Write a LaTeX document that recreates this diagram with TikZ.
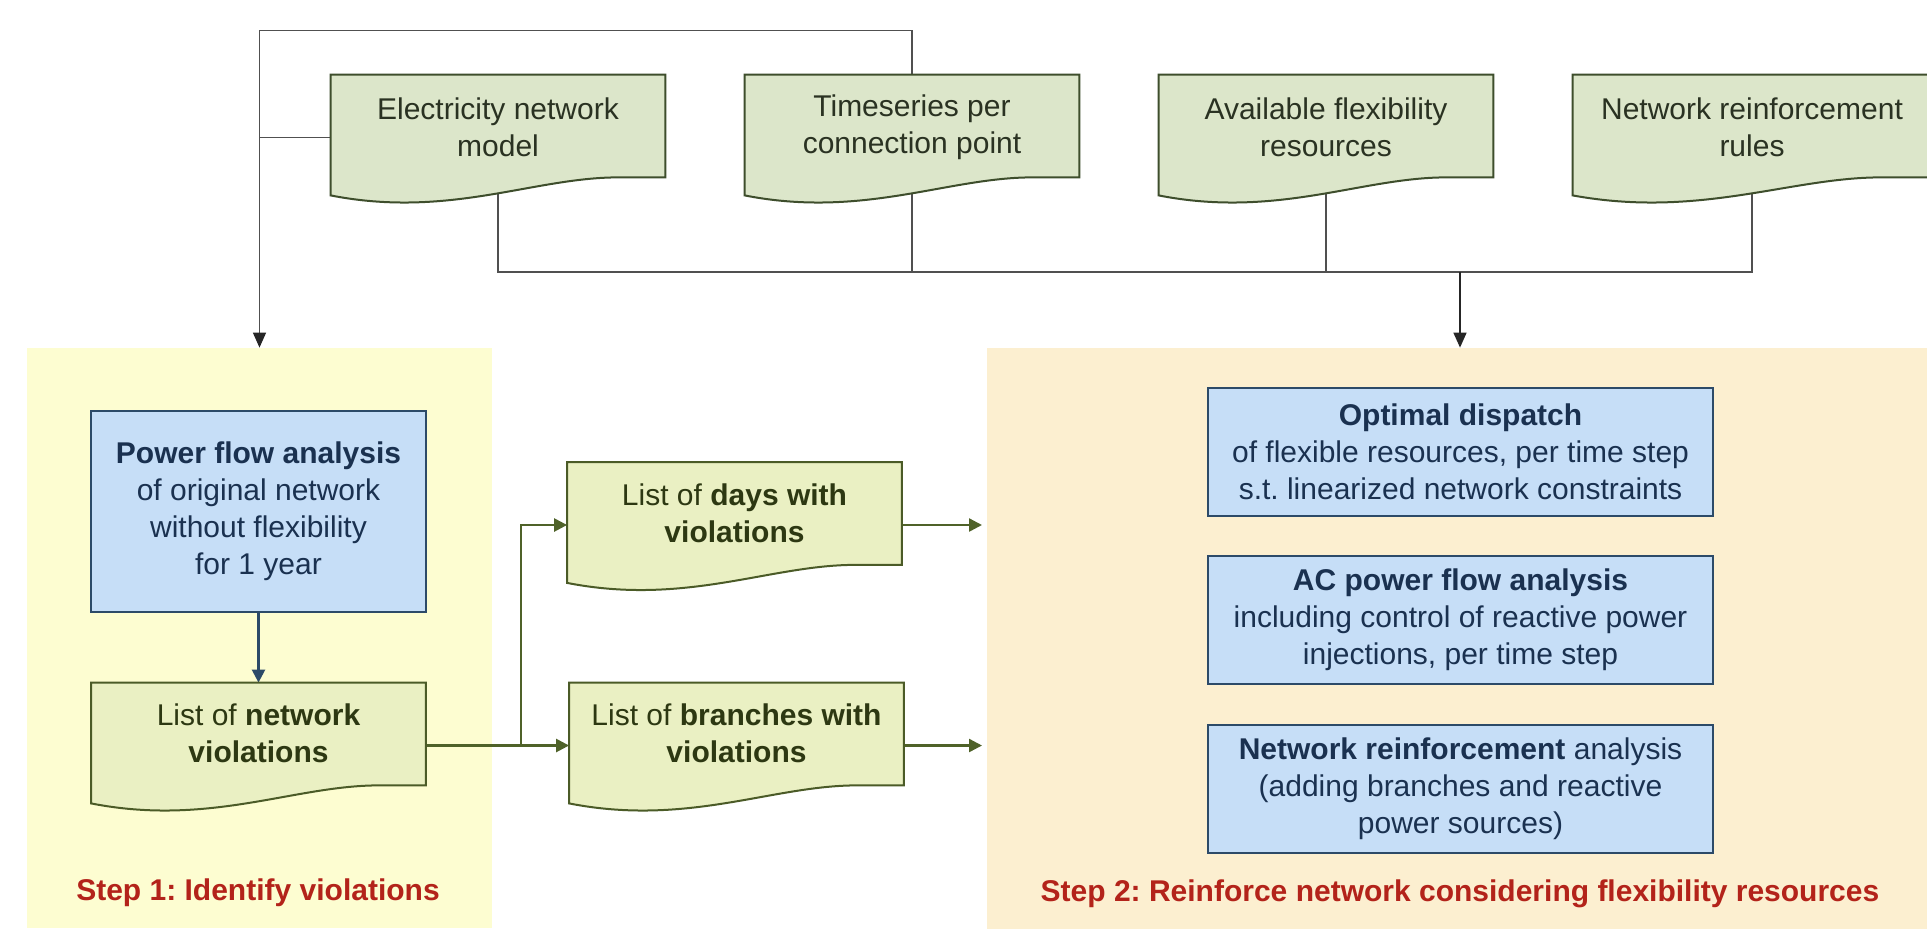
\documentclass[tikz,border=0pt]{standalone}
\usepackage{fontspec}
\setmainfont{Liberation Sans}
\frenchspacing
\usetikzlibrary{arrows.meta,calc}
\pgfdeclarelayer{areas}
\pgfdeclarelayer{conn}
\pgfdeclarelayer{shapes}
\pgfsetlayers{areas,conn,shapes,main}
\definecolor{areaA}{HTML}{FDFDD1}
\definecolor{areaB}{HTML}{FCEFD0}
\definecolor{blueFill}{HTML}{C6DEF7}
\definecolor{blueDraw}{HTML}{2C4A68}
\definecolor{blueText}{HTML}{1A3150}
\definecolor{topFill}{HTML}{DCE6CA}
\definecolor{topDraw}{HTML}{3E4E2C}
\definecolor{topText}{HTML}{2A3222}
\definecolor{listFill}{HTML}{EAF0C3}
\definecolor{listDraw}{HTML}{4B5B27}
\definecolor{listText}{HTML}{2D3812}
\definecolor{greenArrow}{HTML}{4F6229}
\definecolor{stepRed}{HTML}{B3231A}
\definecolor{lineGray}{HTML}{505050}
\newcommand\docpath[2]{%
  \path[#2] (#1.north west) -- (#1.north east) -- ($(#1.south east)+(0,-23)$)
    -- ($(#1.south west)!0.85!(#1.south east)+(0,-23)$)
    .. controls ($(#1.south west)!0.6!(#1.south east)+(0,-22)$)
    and ($(#1.south west)!0.35!(#1.south east)+(0,18)$)
    .. ($(#1.south west)+(0,-5)$) -- cycle;}
\tikzset{
  txt/.style={font=\fontsize{15pt}{18.5pt}\selectfont, align=center},
  docbox/.style={minimum width=167pt, minimum height=62.5pt, inner sep=0pt},
  topdoc/.style={fill=topFill, draw=topDraw, line width=1pt},
  listdoc/.style={fill=listFill, draw=listDraw, line width=1pt},
  proc/.style={draw=blueDraw, fill=blueFill, line width=1pt, txt, text=blueText,
    minimum width=252.5pt, minimum height=64pt, inner sep=0pt},
  area/.style={inner sep=0pt, draw=none},
  gline/.style={draw=lineGray, line width=0.75pt},
  gtip/.style={-{Triangle[length=7.5pt,width=6.5pt]}, draw=black!85, fill=black!85, line width=0.75pt},
  grn/.style={draw=greenArrow, line width=1.2pt},
  grntip/.style={grn, -{Triangle[length=6.5pt,width=6.5pt]}},
  bluetip/.style={draw=blueDraw, line width=1.2pt, -{Triangle[length=6.5pt,width=6.5pt]}},
  steplbl/.style={font=\fontsize{15pt}{18pt}\selectfont\bfseries, text=stepRed},
}
\begin{document}
\begin{tikzpicture}[x=0.5pt, y=-0.5pt]
\useasboundingbox (0,0) rectangle (1927,928);

\begin{pgfonlayer}{areas}
\fill[white] (0,0) rectangle (1927,928);
\node[area, fill=areaA, minimum width=232.5pt, minimum height=290pt] (s1) at (259.5,638) {};
\node[area, fill=areaB, minimum width=473pt, minimum height=296pt] (s2) at (1460,644) {};
\end{pgfonlayer}

% top documents
\node[docbox, label={[txt,text=topText,yshift=5pt,name=elecT]center:{Electricity network\\model}}] (elec) at (498,137.5) {};
\node[docbox, label={[txt,text=topText,yshift=5pt,name=tsT]center:{Timeseries per\\connection point}}] (ts) at (912,137.5) {};
\node[docbox, label={[txt,text=topText,yshift=5pt,name=avT]center:{Available flexibility\\resources}}] (avail) at (1326,137.5) {};
\node[docbox, minimum width=179pt, label={[txt,text=topText,yshift=5pt,name=nrrT]center:{Network reinforcement\\rules}}] (nrr) at (1752,137.5) {};

% step 1
\node[proc, minimum width=167.5pt, minimum height=100.5pt] (pfa) at (258.5,511.5)
  {\textbf{Power flow analysis}\\of original network\\without flexibility\\for 1 year};
\node[docbox, label={[txt,text=listText,yshift=6pt,name=nvT]center:{List of \textbf{network}\\\textbf{violations}}}] (nv) at (258.5,745.5) {};
\node[steplbl] (st1) at (258,893) {Step 1: Identify violations};

% middle lists
\node[docbox, label={[txt,text=listText,yshift=6pt,name=dvT]center:{List of \textbf{days with}\\\textbf{violations}}}] (dv) at (734.5,525) {};
\node[docbox, label={[txt,text=listText,yshift=6pt,name=bvT]center:{List of \textbf{branches with}\\\textbf{violations}}}] (bv) at (736.5,745.5) {};

% step 2
\node[proc] (od) at (1460.5,451.5) {\textbf{Optimal dispatch}\\of flexible resources, per time step\\s.t. linearized network constraints};
\node[proc] (ac) at (1460.5,620) {\textbf{AC power flow analysis}\\including control of reactive power\\injections, per time step};
\node[proc] (nr) at (1460.5,788.5) {\textbf{Network reinforcement} analysis\\(adding branches and reactive\\power sources)};
\node[steplbl] (st2) at (1460,894) {Step 2: Reinforce network considering flexibility resources};

\begin{pgfonlayer}{shapes}
\docpath{elec}{topdoc}
\docpath{ts}{topdoc}
\docpath{avail}{topdoc}
\docpath{nrr}{topdoc}
\docpath{nv}{listdoc}
\docpath{dv}{listdoc}
\docpath{bv}{listdoc}
\end{pgfonlayer}

\coordinate (bus) at (1460,272);
\coordinate (br) at (521,745.5);
\coordinate (dvout) at (982,525);
\coordinate (bvout) at (982,745.5);

\begin{pgfonlayer}{conn}
\draw[gline] (ts.center) -- (ts.north) -- ++(0,-44) -| ($(s1.north)+(0,-14)$);
\draw[gtip] ($(s1.north)+(0,-14)$) -- (s1.north);
\draw[gline] (elec.west) -- (elec.west -| s1.north);
\draw[gline] (elec.center) -- (elec.center |- bus) -- (nrr.center |- bus) -- (nrr.center);
\draw[gline] (ts.center) -- (ts.center |- bus);
\draw[gline] (avail.center) -- (avail.center |- bus);
\draw[gtip] (bus) -- (s2.north);
\draw[bluetip] (pfa.south) -- (nv.north);
\draw[grn] (nv.east) -- (br);
\draw[grntip] (br) -- (bv.west);
\draw[grntip] (br) |- (dv.west);
\draw[grntip] (dv.east) -- (dvout);
\draw[grntip] (bv.east) -- (bvout);
\end{pgfonlayer}
\end{tikzpicture}
\end{document}
